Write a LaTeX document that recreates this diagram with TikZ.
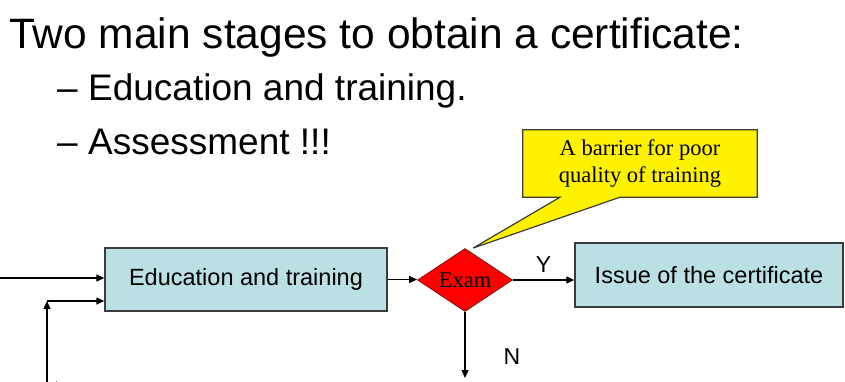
\documentclass[tikz,border=0pt]{standalone}
\usepackage{fontspec}
\setmainfont{Liberation Sans}
\newfontfamily\notefont{Liberation Serif}
\usetikzlibrary{arrows.meta,shapes.geometric,backgrounds}
\definecolor{boxblue}{RGB}{187,224,227}
\definecolor{boxline}{RGB}{60,60,60}

\begin{document}
\begin{tikzpicture}[x=1pt,y=1pt,yscale=-1,
  txt/.style={anchor=base west,inner sep=0},
  proc/.style={draw=boxline,line width=1.4pt,fill=boxblue,inner sep=0,font=\fontsize{23.5}{28}\selectfont},
  exambox/.style={shape=diamond,aspect=1.5,draw={rgb,255:red,130;green,20;blue,20},line width=0.8pt,fill=red,inner sep=0,font=\notefont\fontsize{22.5}{26}\selectfont},
  notebox/.style={inner sep=0,align=center,font=\notefont\fontsize{22.5}{27}\selectfont},
  link/.style={-{Triangle[length=8pt,width=7pt]},line width=1.3pt},
  lbl/.style={inner sep=0,font=\fontsize{23}{27}\selectfont}]
\useasboundingbox (0,0) rectangle (845,381);

%Text: heading and items
\node[txt,font=\fontsize{42.5}{50}\selectfont] (title) at (9,48) {Two main stages to obtain a certificate:};
\node[txt,font=\fontsize{37}{44}\selectfont] (itemedu) at (57,100.5) {\makebox[31pt][l]{–}Education and training.};
\node[txt,font=\fontsize{37}{44}\selectfont] (itemexam) at (57,154) {\makebox[31pt][l]{–}Assessment !!!};

%Shape: Rectangle
\node[proc,minimum width=282,minimum height=63] (edu) at (246,279.5) {Education and training};
%Shape: Diamond
\node[exambox,minimum width=95,minimum height=63] (exam) at (465,280) {Exam};
%Shape: Rectangle
\node[proc,minimum width=268,minimum height=64] (cert) at (709,275) {Issue of the certificate};
%Shape: Callout
\node[notebox,minimum width=234,minimum height=67] (note) at (640,163.5) {A barrier for poor\\quality of training};
\coordinate (tip) at ([xshift=8]exam.north);
\begin{scope}[on background layer]
\draw[draw=boxline,line width=1.2pt,fill=yellow] (note.north west) -- (note.north east) -- (note.south east)
  -- ([xshift=-20]note.south) -- (tip) -- ([xshift=-80]note.south) -- (note.south west) -- cycle;
\end{scope}

%Straight Lines
\coordinate (inA) at (0,278);
\coordinate (loop) at (47,301);
\coordinate (loopstart) at (47,395);
\coordinate (back) at (80,385);
\coordinate (nend) at (465,378);
\draw[link] (inA) -- (inA -| edu.west);
\draw[link] (loopstart) -- (loop);
\draw[link] (loop) -- (loop -| edu.west);
\draw[link] (back) -- (49,385);
\draw[link] (edu.east) -- (edu.east -| exam.west);
\draw[link] (exam.east) -- (exam.east -| cert.west) node[lbl,midway,above=7pt] (yes) {Y};
\draw[link] (exam.south) -- (nend) node[lbl,pos=0.67,right=38pt] (no) {N};

\end{tikzpicture}
\end{document}
